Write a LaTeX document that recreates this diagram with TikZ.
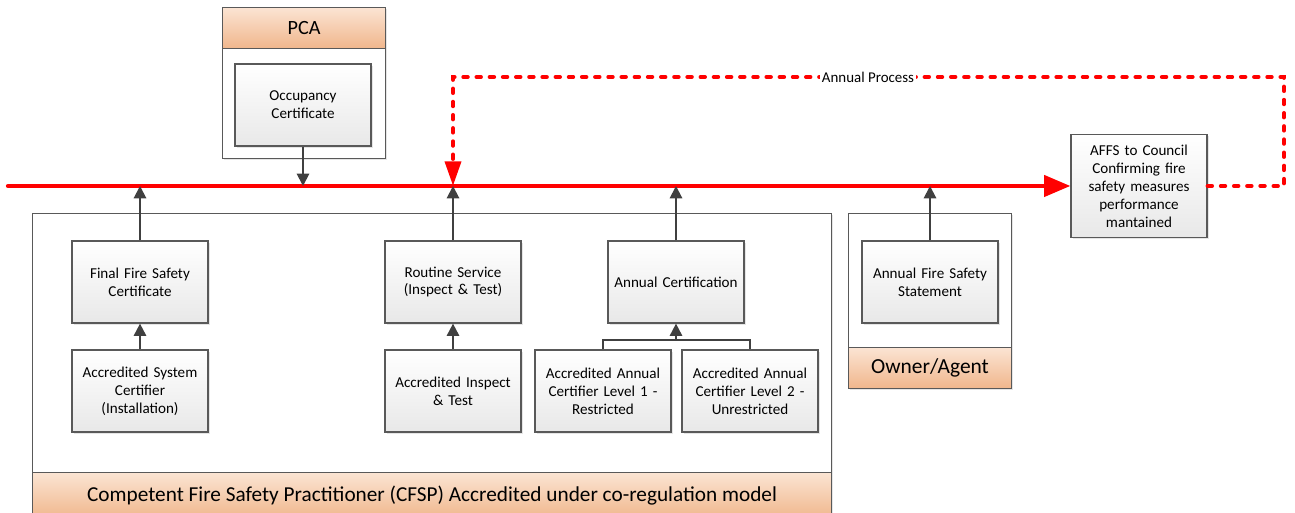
\documentclass[tikz,border=0pt]{standalone}
\usepackage{fontspec}
\setmainfont{Carlito}
\usetikzlibrary{arrows.meta,shadows}

\definecolor{boxline}{HTML}{595959}
\definecolor{bandtop}{HTML}{FBE4D3}
\definecolor{bandbot}{HTML}{F0B68C}
\definecolor{arrowgray}{HTML}{404040}

\tikzset{
  card/.style={draw=boxline, line width=0.7pt, top color=white, bottom color=black!9,
    minimum width=2.72cm, minimum height=1.64cm, text width=2.5cm, inner xsep=2pt, align=center,
    font=\fontsize{8.6}{10.2}\selectfont,
    drop shadow={shadow xshift=0.9pt, shadow yshift=-0.9pt, fill=black!20}},
  panel/.style={draw=boxline, line width=0.6pt, fill=white, anchor=north west, inner sep=0pt,
    drop shadow={shadow xshift=0.9pt, shadow yshift=-0.9pt, fill=black!20}},
  band/.style={draw=boxline, line width=0.6pt, top color=bandtop, bottom color=bandbot,
    anchor=north west, inner sep=0pt},
  feed/.style={draw=arrowgray, line width=1.1pt, -{Triangle[length=7pt,width=7pt]}},
  bus/.style={red, line width=2.4pt, line cap=round},
  loopback/.style={red, line width=2.3pt, dash pattern=on 2.5pt off 5pt, line cap=round}
}

\begin{document}
\begin{tikzpicture}
\useasboundingbox (0,0) rectangle (25.9,10.26);

% panels and their title bands
\node[panel, minimum width=3.26cm, minimum height=3.02cm] (pcapanel) at (4.44,10.12) {};
\node[band, minimum width=3.26cm, minimum height=0.82cm, font=\fontsize{11.5}{13}\selectfont] (pcaband) at (4.44,10.12) {PCA};

\node[panel, minimum width=15.98cm, minimum height=6.10cm] (cfsppanel) at (0.64,6.00) {};
\node[band, minimum width=15.98cm, minimum height=0.92cm, font=\fontsize{12.1}{14}\selectfont] (cfspband) at (0.64,0.82)
  {Competent Fire Safety Practitioner (CFSP) Accredited under co-regulation model};

\node[panel, minimum width=3.26cm, minimum height=3.50cm] (ownerpanel) at (16.96,6.00) {};
\node[band, minimum width=3.26cm, minimum height=0.82cm, font=\fontsize{12.2}{14}\selectfont] (ownerband) at (16.96,3.32) {Owner/Agent};

% certificate boxes
\node[card] (occ) at (6.06,8.16) {Occupancy\\Certificate};
\node[card] (ffsc) at (2.80,4.62) {Final Fire Safety\\Certificate};
\node[card] (asc) at (2.80,2.44) {Accredited System\\Certifier\\(Installation)};
\node[card] (routine) at (9.06,4.62) {Routine Service\\(Inspect \& Test)};
\node[card] (ait) at (9.06,2.44) {Accredited Inspect\\\& Test};
\node[card] (acert) at (13.52,4.62) {Annual Certification};
\node[card] (lvlone) at (12.06,2.44) {Accredited Annual\\Certifier Level 1 -\\Restricted};
\node[card] (lvltwo) at (15.00,2.44) {Accredited Annual\\Certifier Level 2 -\\Unrestricted};
\node[card] (afss) at (18.60,4.62) {Annual Fire Safety\\Statement};
\node[card, minimum height=2.06cm] (affs) at (22.78,6.54) {AFFS to Council\\Confirming fire\\safety measures\\performance\\mantained};

% main red line and the yearly loop back
\coordinate (busstart) at (0.16,6.54);
\coordinate (loopcorner) at (25.68,8.72);
\coordinate (merge) at (9.06,6.54);
\draw[bus, -{Triangle[length=15pt,width=12pt]}] (busstart) -- (affs.west);
\draw[loopback, -{Triangle[length=14pt,width=9pt]}] (affs.east) -| (loopcorner) -| (merge);
\node[fill=white, inner sep=1pt, font=\fontsize{8.5}{10}\selectfont] (annual) at (17.36,8.72) {Annual Process};

% feeds onto the line
\draw[feed] (occ.south) -- (occ.south |- busstart);
\foreach \n in {ffsc,routine,acert,afss}
  \draw[feed] (\n.north) -- (\n.north |- busstart);
\draw[feed] (asc) -- (ffsc);
\draw[feed] (ait) -- (routine);
\coordinate (join) at (13.52,3.46);
\draw[arrowgray, line width=1.1pt] (lvlone.north) |- (join) -| (lvltwo.north);
\draw[feed] (join) -- (acert.south);
\end{tikzpicture}
\end{document}
